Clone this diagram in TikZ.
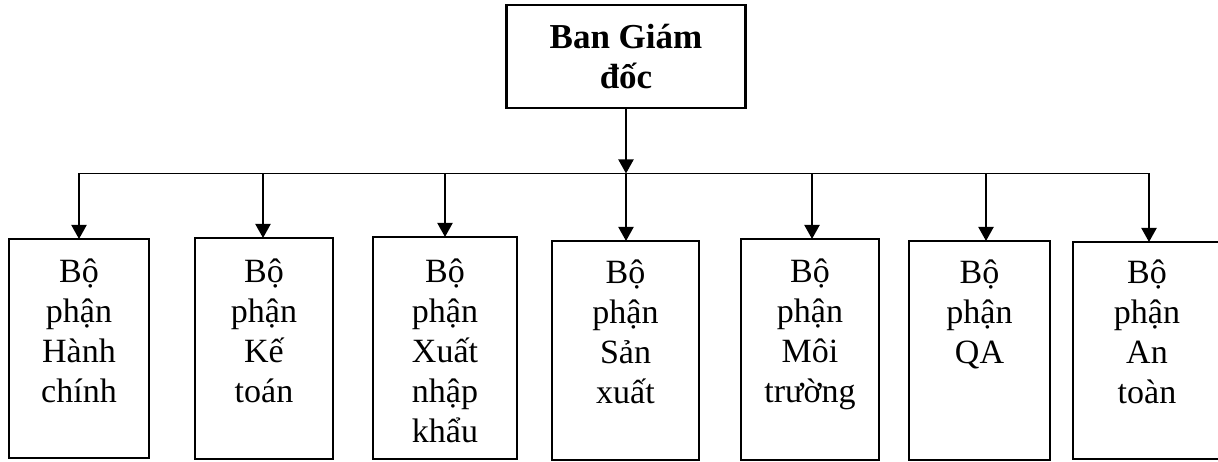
\documentclass[tikz,border=0pt]{standalone}
\usepackage{fontspec}
\setmainfont{Liberation Serif}
\usetikzlibrary{arrows.meta}
\newcommand\firstst{\rule{0pt}{32pt}}
\begin{document}
\begin{tikzpicture}[x=1pt,y=-1pt,
  box/.style={draw, line width=2.6pt, inner sep=0pt, outer sep=0pt},
  txt/.style={font=\fontsize{34}{40}\selectfont, align=center, inner sep=0pt, anchor=north},
  conn/.style={line width=2pt, -{Triangle[width=15pt,length=14pt]}},
  bar/.style={line width=1.3pt}]
\useasboundingbox (0,0) rectangle (1218,462);
\clip (0,0) rectangle (1218,462);

% top box
\node[box, minimum width=239pt, minimum height=103pt, align=center,
      font=\bfseries\fontsize{35}{40}\selectfont] (top) at (626,56.5) {Ban Giám\\đốc};

% bar coordinates
\coordinate (j)  at (626,173.5);
\coordinate (a1) at (79,173.5);
\coordinate (a2) at (263,173.5);
\coordinate (a3) at (445,173.5);
\coordinate (a4) at (626,173.5);
\coordinate (a5) at (812,173.5);
\coordinate (a6) at (986,173.5);
\coordinate (a7) at (1149,173.5);

% boxes
\node[box, anchor=north west, minimum width=140pt, minimum height=219pt] (b1) at (9,239) {};
\node[box, anchor=north west, minimum width=138pt, minimum height=221pt] (b2) at (195,238) {};
\node[box, anchor=north west, minimum width=144pt, minimum height=222pt] (b3) at (373,237) {};
\node[box, anchor=north west, minimum width=147pt, minimum height=219pt] (b4) at (552,241) {};
\node[box, anchor=north west, minimum width=138pt, minimum height=221pt] (b5) at (741,239) {};
\node[box, anchor=north west, minimum width=141pt, minimum height=219pt] (b6) at (909,241) {};
\node[box, anchor=north west, minimum width=148pt, minimum height=217pt] (b7) at (1073,242) {};

% texts
\node[txt] (t1) at (b1.north |- 0,250) {\firstst Bộ\\phận\\Hành\\chính};
\node[txt] (t2) at (b2.north |- 0,250) {\firstst Bộ\\phận\\Kế\\toán};
\node[txt] (t3) at (b3.north |- 0,250) {\firstst Bộ\\phận\\Xuất\\nhập\\khẩu};
\node[txt] (t4) at (b4.north |- 0,251) {\firstst Bộ\\phận\\Sản\\xuất};
\node[txt] (t5) at (b5.north |- 0,250) {\firstst Bộ\\phận\\Môi\\trường};
\node[txt] (t6) at (b6.north |- 0,251) {\firstst Bộ\\phận\\QA};
\node[txt] (t7) at (b7.north |- 0,251) {\firstst Bộ\\phận\\An\\toàn};

% connectors
\draw[conn] (top.south) -- (j);
\draw[bar] (a1) -- (a7);
\draw[conn] (a1) -- (a1 |- b1.north);
\draw[conn] (a2) -- (a2 |- b2.north);
\draw[conn] (a3) -- (a3 |- b3.north);
\draw[conn] (a4) -- (a4 |- b4.north);
\draw[conn] (a5) -- (a5 |- b5.north);
\draw[conn] (a6) -- (a6 |- b6.north);
\draw[conn] (a7) -- (a7 |- b7.north);
\end{tikzpicture}
\end{document}
